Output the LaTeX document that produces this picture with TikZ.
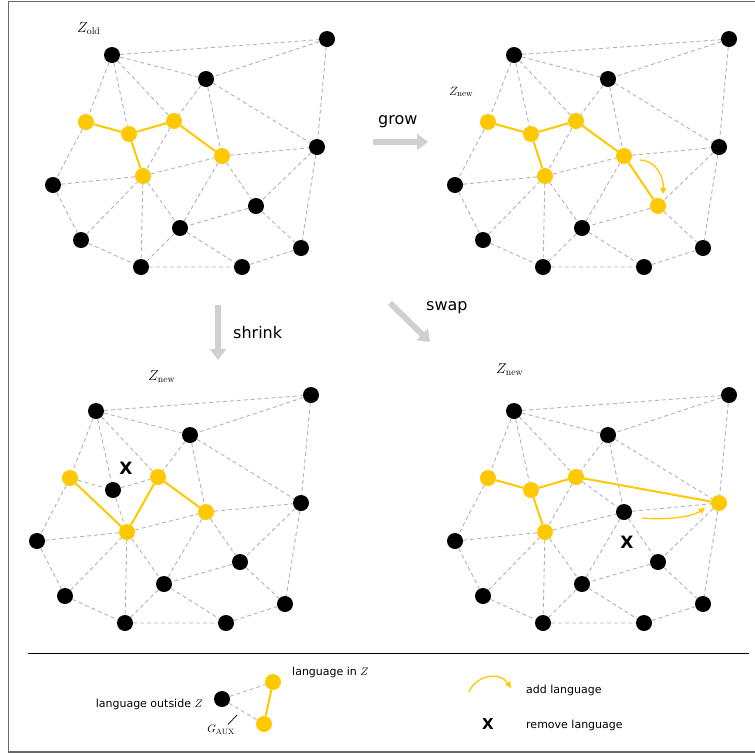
\documentclass[tikz,border=0pt]{standalone}
\usepackage{fontspec}
\newfontfamily\dv{DejaVu Sans}
\usetikzlibrary{arrows.meta}
\definecolor{zyellow}{RGB}{255,200,0}
\definecolor{auxgray}{RGB}{178,178,178}
\definecolor{bigarrow}{RGB}{208,208,208}
\definecolor{framegray}{RGB}{105,105,105}
\tikzset{
  vtx/.style={circle,fill=black,inner sep=0pt,minimum size=16pt},
  yel/.style={fill=zyellow},
  aux/.style={draw=auxgray,line width=0.9pt,dash pattern=on 4pt off 3pt},
  zedge/.style={draw=zyellow,line width=2pt},
  bigarr/.style={draw=bigarrow,line width=6pt,-{Triangle[width=16pt,length=11pt]}},
  addarr/.style={draw=zyellow,line width=1.3pt,-{Triangle[width=6pt,length=6pt]}},
  lbl/.style={font=\dv\fontsize{16}{19}\selectfont,inner sep=0pt},
  leg/.style={font=\dv\fontsize{11}{13}\selectfont,inner sep=0pt},
  zlbl/.style={font=\fontsize{14}{16}\selectfont,inner sep=0pt},
  xmark/.style={font=\dv\bfseries\fontsize{17}{19}\selectfont,inner sep=0pt},
  cA/.style={},cB/.style={},cC/.style={},cD/.style={},cE/.style={},cF/.style={},
  cG/.style={},cH/.style={},cI/.style={},cJ/.style={},cK/.style={},
  cYa/.style={},cYb/.style={},cYc/.style={},cYd/.style={},cYe/.style={}
}
\newcommand\langgraph{%
  \node[vtx,cA] (A) at (112,55) {};
  \node[vtx,cB] (B) at (327,39) {};
  \node[vtx,cC] (C) at (206,79) {};
  \node[vtx,cYa] (Ya) at (86,122) {};
  \node[vtx,cYb] (Yb) at (129,134) {};
  \node[vtx,cYc] (Yc) at (174,121) {};
  \node[vtx,cYd] (Yd) at (222,156) {};
  \node[vtx,cYe] (Ye) at (143,176) {};
  \node[vtx,cD] (D) at (317,147) {};
  \node[vtx,cE] (E) at (53,185) {};
  \node[vtx,cF] (F) at (256,206) {};
  \node[vtx,cG] (G) at (180,228) {};
  \node[vtx,cH] (H) at (81,240) {};
  \node[vtx,cI] (I) at (301,248) {};
  \node[vtx,cJ] (J) at (141,267) {};
  \node[vtx,cK] (K) at (242,267) {};
  \draw[aux] (A)--(B) (A)--(C) (B)--(C) (B)--(D) (A)--(Ya) (A)--(Yb) (A)--(Yc)
    (C)--(Yc) (C)--(Yd) (C)--(D) (Ya)--(Yb) (Yb)--(Yc) (Yc)--(Yd) (Yb)--(Ye)
    (Ya)--(E) (Yc)--(Ye) (Ye)--(Yd) (Yd)--(D) (E)--(Ye) (E)--(H) (H)--(Ye)
    (H)--(J) (Ye)--(J) (Ye)--(G) (Yd)--(G) (Yd)--(F) (D)--(F) (D)--(I)
    (F)--(G) (F)--(I) (G)--(J) (G)--(K) (J)--(K) (K)--(I);
}
\begin{document}
\begin{tikzpicture}[x=1pt,y=-1pt]
\useasboundingbox (0,0) rectangle (755,753);
\draw[framegray,line width=1.5pt] (757,1.5) -- (8.5,1.5) -- (8.5,752) -- (757,752);

% top left: Z_old
\begin{scope}[name prefix=tl-,cYa/.style=yel,cYb/.style=yel,cYc/.style=yel,cYd/.style=yel,cYe/.style=yel]
  \langgraph
  \draw[zedge] (Ya)--(Yb)--(Yc)--(Yd) (Yb)--(Ye);
\end{scope}
\node[zlbl,anchor=base west] (zold) at (77,32) {$Z_{\mathrm{old}}$};

% top right: grow
\begin{scope}[shift={(402,0)},name prefix=tr-,cYa/.style=yel,cYb/.style=yel,cYc/.style=yel,cYd/.style=yel,cYe/.style=yel,cF/.style=yel]
  \langgraph
  \draw[zedge] (Ya)--(Yb)--(Yc)--(Yd)--(F) (Yb)--(Ye);
\end{scope}
\node[zlbl,font=\fontsize{12.5}{15}\selectfont,anchor=base west] (znew1) at (449,95) {$Z_{\mathrm{new}}$};
\coordinate (gs) at (640,160);
\coordinate (ge) at (663,194);
\draw[addarr] (gs) .. controls (655,160) and (664,176) .. (ge);

% bottom left: shrink
\begin{scope}[shift={(-16,356)},name prefix=bl-,cYa/.style=yel,cYc/.style=yel,cYd/.style=yel,cYe/.style=yel]
  \langgraph
  \draw[zedge] (Ya)--(Ye)--(Yc)--(Yd);
\end{scope}
\node[zlbl,anchor=base west] (znew2) at (148,380) {$Z_{\mathrm{new}}$};
\node[xmark] (xbl) at (126,468) {X};

% bottom right: swap
\begin{scope}[shift={(402,356)},name prefix=br-,cYa/.style=yel,cYb/.style=yel,cYc/.style=yel,cYe/.style=yel,cD/.style=yel]
  \langgraph
  \draw[zedge] (Ya)--(Yb)--(Yc)--(D) (Yb)--(Ye);
\end{scope}
\node[zlbl,anchor=base west] (znew3) at (496,373) {$Z_{\mathrm{new}}$};
\node[xmark] (xbr) at (627,542) {X};
\coordinate (ss) at (642,518);
\coordinate (se) at (705,508);
\draw[addarr] (ss) .. controls (662,520) and (690,518) .. (se);

% big gray arrows
\coordinate (growa) at (373,142);
\coordinate (growb) at (428,142);
\draw[bigarr] (growa) -- (growb);
\node[lbl,anchor=base west] (growt) at (378,124) {grow};
\coordinate (shra) at (218,305);
\coordinate (shrb) at (218,360);
\draw[bigarr] (shra) -- (shrb);
\node[lbl,anchor=base west] (shrt) at (233,338) {shrink};
\coordinate (swa) at (390,303);
\coordinate (swb) at (430,342);
\draw[bigarr] (swa) -- (swb);
\node[lbl,anchor=base west] (swt) at (426,310) {swap};

% legend
\coordinate (la) at (28,653);
\coordinate (lb) at (749,653);
\draw[line width=1pt] (la) -- (lb);
\node[vtx] (lo) at (222,699) {};
\node[vtx,yel] (li1) at (273,682) {};
\node[vtx,yel] (li2) at (264,724) {};
\draw[aux] (lo)--(li1) (lo)--(li2);
\draw[zedge] (li1)--(li2);
\node[leg,anchor=base east] (tout) at (203,707) {language outside $Z$};
\node[leg,anchor=base west] (tin) at (292,675) {language in $Z$};
\node[inner sep=0pt,font=\fontsize{11}{13}\selectfont] (gaux) at (221,730) {$G_{\mathrm{AUX}}$};
\coordinate (gp1) at (228,724.5);
\coordinate (gp2) at (237,715);
\draw[line width=0.7pt] (gp1) -- (gp2);
\coordinate (aa) at (469,692);
\coordinate (ab) at (511,688);
\draw[addarr] (aa) .. controls (476,675) and (500,671) .. (ab);
\node[leg,anchor=base west] (tadd) at (526,693) {add language};
\node[xmark,font=\dv\bfseries\fontsize{15}{17}\selectfont] (xleg) at (488,724) {X};
\node[leg,anchor=base west] (trem) at (526,728) {remove language};
\end{tikzpicture}
\end{document}
